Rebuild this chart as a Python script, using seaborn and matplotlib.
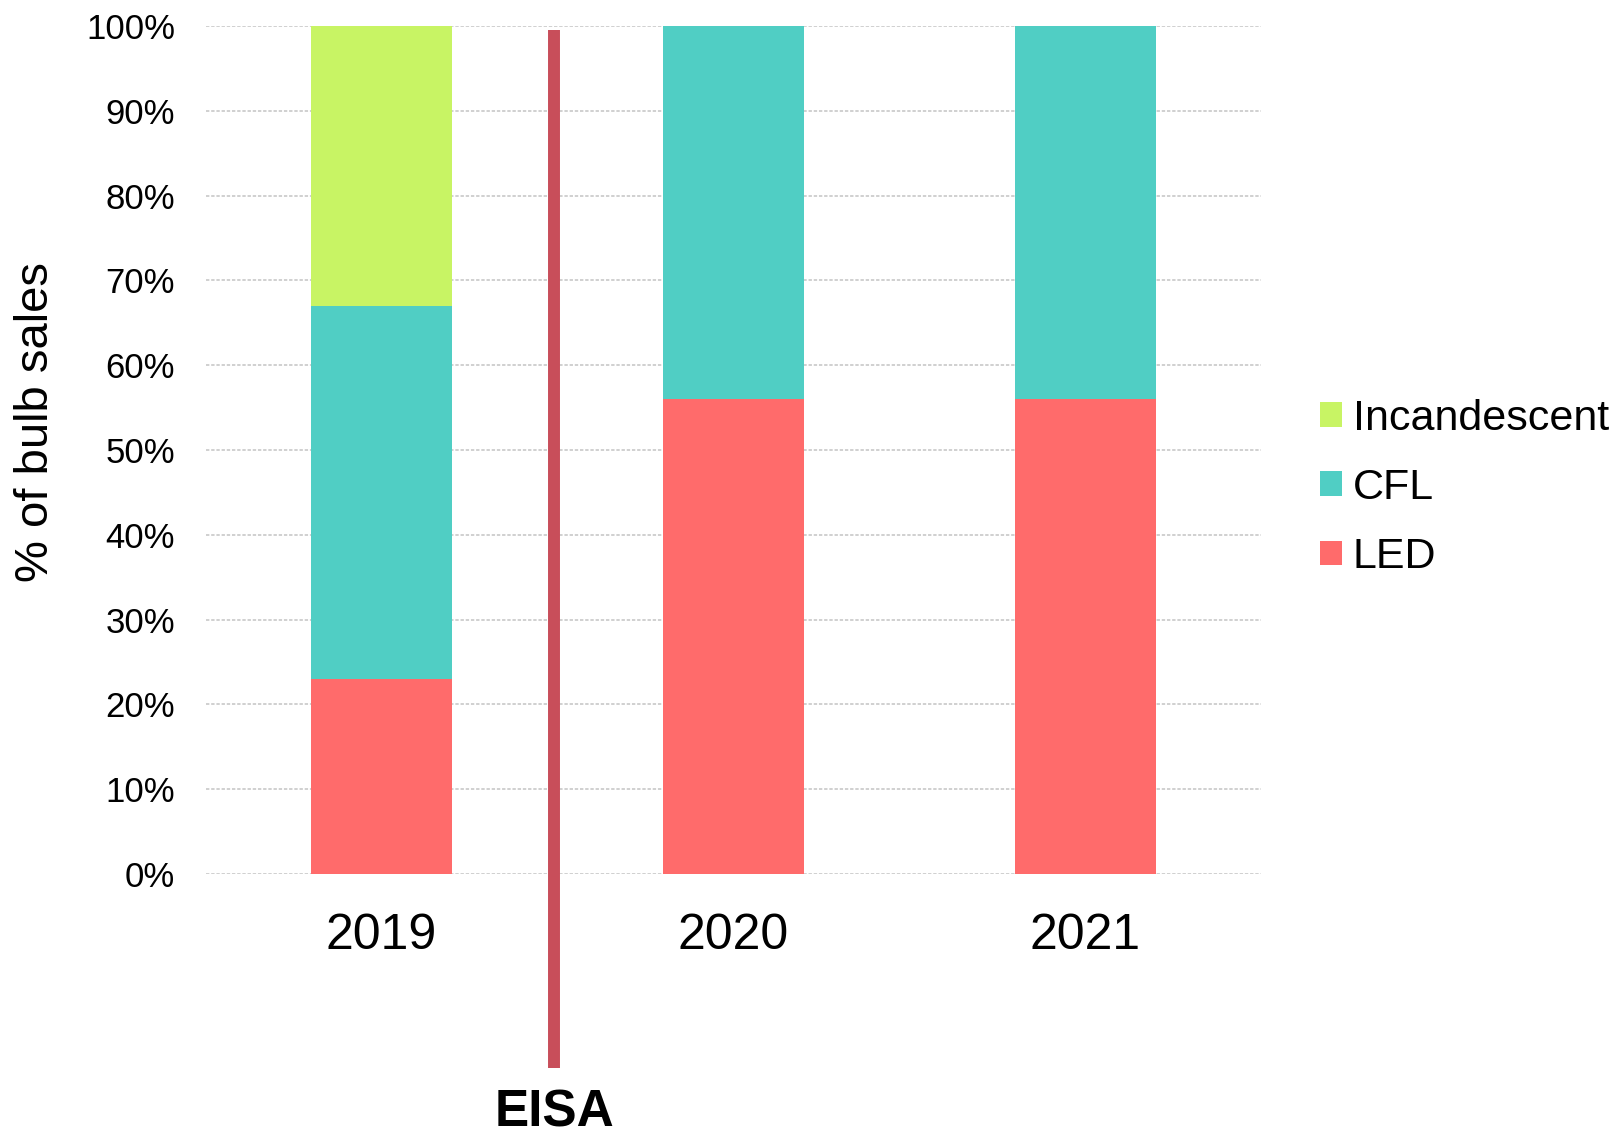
import matplotlib
matplotlib.use("Agg")
import matplotlib.pyplot as plt
from matplotlib.patches import Patch
import pandas as pd
import seaborn as sns

# Share of bulb sales by technology (fractions of total)
years = ["2019", "2020", "2021"]
led = [0.23, 0.56, 0.56]
cfl = [0.44, 0.44, 0.44]
incandescent = [0.33, 0.00, 0.00]

series_names = ["Incandescent", "CFL", "LED"]
series_colors = {"Incandescent": "#C8F464", "CFL": "#50CEC4", "LED": "#FF6B6B"}
ytick_values = [0.0, 0.1, 0.2, 0.3, 0.4, 0.5, 0.6, 0.7, 0.8, 0.9, 1.0]
ytick_labels = ["0%", "10%", "20%", "30%", "40%", "50%", "60%", "70%", "80%", "90%", "100%"]
marker_label = "EISA"
marker_pos = 0.49

sns.set_theme(style="white")
plt.rcParams["font.family"] = ["Liberation Sans", "DejaVu Sans"]
plt.rcParams["text.color"] = "black"

df = pd.DataFrame({"year": years, "LED": led, "CFL": cfl, "Incandescent": incandescent})
# cumulative tops for stacking
df["top_LED"] = df["LED"]
df["top_CFL"] = df["LED"] + df["CFL"]
df["top_Incandescent"] = df["top_CFL"] + df["Incandescent"]

fig = plt.figure(figsize=(16.2, 11.35), dpi=100)
ax = fig.add_axes([0.1269, 0.2300, 0.6518, 0.7471])

for name in series_names:  # draw tallest first so lower segments sit on top
    sns.barplot(data=df, x="year", y="top_" + name, color=series_colors[name],
                width=0.4, saturation=1, linewidth=0, ax=ax, zorder=3)

ax.set_xlim(-0.5, 2.5)
ax.set_ylim(0, 1.0)
ax.set_yticks(ytick_values)
ax.set_yticklabels(ytick_labels, fontsize=25, color="black")
ax.tick_params(axis="y", pad=22, length=0)
ax.tick_params(axis="x", pad=28, length=0, labelsize=36, labelcolor="black")
ax.set_xlabel("")
ax.set_ylabel("")
for s in ax.spines.values():
    s.set_visible(False)
ax.yaxis.grid(True, color="#C4C4C4", linestyle=(0, (2.2, 1.2)), linewidth=1.1, zorder=0)
ax.set_axisbelow(True)

# policy marker line extending below the axis
ax.plot([marker_pos, marker_pos], [-0.229, 0.995], color="#C84E5A", linewidth=8.6,
        solid_capstyle="butt", clip_on=False, zorder=5)
ax.text(marker_pos, -0.282, marker_label, ha="center", va="center", fontsize=37,
        fontweight="bold", color="black", clip_on=False)

fig.text(36.5 / 1620, 1 - 422 / 1135, "% of bulb sales", rotation=90,
         ha="center", va="center", fontsize=34, color="black")

handles = [Patch(facecolor=series_colors[n], edgecolor="none") for n in series_names]
leg = fig.legend(handles, series_names, loc="center left", bbox_to_anchor=(0.815, 0.5700),
                 frameon=False, fontsize=31, handlelength=0.5, handleheight=0.5,
                 handletextpad=0.25, labelspacing=0.68, borderpad=0, borderaxespad=0)
for t in leg.get_texts():
    t.set_color("black")

fig.savefig("out.png", dpi=100, facecolor="white")
